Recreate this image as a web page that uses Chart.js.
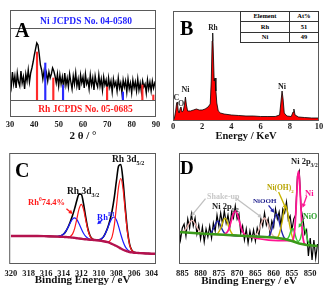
<!DOCTYPE html>
<html><head><meta charset="utf-8">
<script src="https://cdn.jsdelivr.net/npm/chart.js@4.4.1/dist/chart.umd.min.js"></script>
<style>
html,body{margin:0;padding:0;background:#fff;}
#fig{position:relative;width:335px;height:292px;overflow:hidden;font-family:"Liberation Serif","Times New Roman",serif;font-weight:bold;}
.pane{position:absolute;}
.lbl{position:absolute;white-space:nowrap;line-height:1;}
.big{font-size:20px;color:#000;}
.ctr{transform:translateX(-50%);}
sub,sup{font-size:65%;line-height:0;}
table.at{position:absolute;left:240px;top:11px;width:79px;height:32px;border-collapse:collapse;font-size:6.5px;background:#fff;}
table.at td{border:1px solid #333;text-align:center;padding:0;line-height:1;}
</style></head>
<body>
<div id="fig">
  <div class="pane" style="left:0;top:0;width:167px;height:146px"><canvas id="cA"></canvas></div>
  <div class="pane" style="left:167px;top:0;width:168px;height:146px"><canvas id="cB"></canvas></div>
  <div class="pane" style="left:0;top:146px;width:167px;height:146px"><canvas id="cC"></canvas></div>
  <div class="pane" style="left:167px;top:146px;width:168px;height:146px"><canvas id="cD"></canvas></div>

  <!-- A -->
  <div class="lbl big" style="left:15px;top:20px">A</div>
  <div class="lbl ctr" style="left:86px;top:16.7px;font-size:9.5px;color:#1f1fff">Ni JCPDS No. 04-0580</div>
  <div class="lbl ctr" style="left:85.5px;top:104.7px;font-size:9.5px;color:#ff1a1a">Rh JCPDS No. 05-0685</div>

  <!-- B -->
  <div class="lbl big" style="left:180px;top:17.5px">B</div>
  <table class="at">
    <tr><td>Element</td><td>At%</td></tr>
    <tr><td>Rh</td><td>51</td></tr>
    <tr><td>Ni</td><td>49</td></tr>
  </table>
  <div class="lbl ctr" style="left:213px;top:23.7px;font-size:7.5px;color:#222">Rh</div>
  <div class="lbl ctr" style="left:176.5px;top:93.5px;font-size:8px;color:#333">C</div>
  <div class="lbl ctr" style="left:181px;top:99.5px;font-size:8px;color:#333">O</div>
  <div class="lbl ctr" style="left:185.5px;top:85.5px;font-size:8px;color:#222">Ni</div>
  <div class="lbl ctr" style="left:282px;top:83px;font-size:8px;color:#222">Ni</div>

  <!-- C -->
  <div class="lbl big" style="left:15px;top:159.5px">C</div>
  <div class="lbl" style="left:112px;top:155px;font-size:9.5px;color:#111">Rh 3d<sub>5/2</sub></div>
  <div class="lbl" style="left:67px;top:187px;font-size:9.5px;color:#111">Rh 3d<sub>3/2</sub></div>
  <div class="lbl" style="left:28px;top:198px;font-size:8.5px;color:#ff1a1a">Rh<sup>0</sup>74.4%</div>
  <div class="lbl" style="left:97px;top:212.5px;font-size:8.5px;color:#1a1aff">Rh<sup>III</sup></div>

  <!-- D -->
  <div class="lbl big" style="left:180px;top:157.5px;font-size:19px">D</div>
  <div class="lbl" style="left:207px;top:192.5px;font-size:8px;color:#c8c8c8">Shake-up</div>
  <div class="lbl" style="left:212px;top:202px;font-size:8.5px;color:#222">Ni 2p<sub>1/2</sub></div>
  <div class="lbl" style="left:253px;top:197.5px;font-size:7px;color:#1c1c8c">NiOOH</div>
  <div class="lbl" style="left:267px;top:184px;font-size:7.5px;color:#b8a400">Ni(OH)<sub>2</sub></div>
  <div class="lbl" style="left:291px;top:157px;font-size:8.5px;color:#222">Ni 2p<sub>3/2</sub></div>
  <div class="lbl" style="left:305px;top:188.5px;font-size:8.5px;color:#ff1493">Ni</div>
  <div class="lbl" style="left:303px;top:213px;font-size:8px;color:#2ca02c">NiO</div>
</div>
<script>
// ===================== DATA =====================
// A — XRD pattern (2θ, intensity) and reference lines
const xrdX=[30,30.5,31,31.5,32,32.5,33,33.5,34,34.5,35,35.5,36,36.5,37,37.5,38,38.5,39,39.5,40,40.5,41,41.5,42,42.5,43,43.5,44,44.5,45,45.5,46,46.5,47,47.5,48,48.5,49,49.5,50,50.5,51,51.5,52,52.5,53,53.5,54,54.5,55,55.5,56,56.5,57,57.5,58,58.5,59,59.5,60,60.5,61,61.5,62,62.5,63,63.5,64,64.5,65,65.5,66,66.5,67,67.5,68,68.5,69,69.5,70,70.5,71,71.5,72,72.5,73,73.5,74,74.5,75,75.5,76,76.5,77,77.5,78,78.5,79,79.5,80,80.5,81,81.5,82,82.5,83,83.5,84,84.5,85,85.5,86,86.5,87,87.5,88,88.5,89,89.5,90];
const xrdY=[38,30,45,33,41,29,44,35,31,46,34,40,28,43,36,47,35,44,49,55,62,68,74,72,63,52,47,38,46,37,44,36,45,39,43,49,46,41,34,43,31,42,33,40,29,44,32,39,30,43,35,28,41,33,44,31,38,27,42,34,40,29,43,33,37,28,42,32,39,27,41,34,30,42,31,38,27,40,32,37,26,39,30,36,25,38,31,35,26,39,29,34,24,37,30,36,25,38,28,34,24,37,29,35,26,38,27,34,25,36,30,33,24,37,28,35,26,36,29,34,31];
const aSplit=[17,89];             // reference-band boundaries
const niPos=[44.5,51.8,76.4], niTop=[54,32,25];
const rhPos=[41.1,47.8,69.9,84.4,88.9], rhTop=[65,39,30,32,22];

// B — EDS spectrum
const edsX=[0,0.1,0.18,0.25,0.3,0.36,0.42,0.5,0.55,0.62,0.7,0.78,0.85,0.92,1.0,1.2,1.4,1.6,1.8,2.0,2.2,2.4,2.55,2.62,2.68,2.72,2.76,2.82,2.88,2.94,3.0,3.1,3.25,3.5,4,4.5,5,5.5,6,6.5,7,7.3,7.4,7.47,7.54,7.62,7.8,8.1,8.22,8.28,8.36,8.6,9,9.5,10];
const edsY=[0,3,10,18,19,10,8,13,14,9,10,16,24,16,10,10,11,12,11,11,12,14,17,40,80,88,70,40,43,30,18,10,8,7,6,5.5,5,5,4.5,4.5,4.5,6,20,30,22,8,5,4.5,9,12,6,4,3.5,3,3];

// C — Rh 3d XPS
const rhX=[320,319,318,317,316,315,314.5,314,313.75,313.5,313.25,313,312.75,312.5,312.25,312,311.75,311.5,311.25,311,310.75,310.5,310,309.5,309,308.75,308.5,308.25,308,307.75,307.5,307.25,307,306.75,306.5,306.25,306,305.5,305,304.5,304,303.5];
const rhBg=[28,28,28,28,27.8,27.5,27.3,27.1,27,26.8,26.6,26.4,26.1,25.8,25.5,25.2,24.9,24.7,24.5,24.3,24.1,24,23.5,22.8,21.8,21,20,19,18,16.8,15.5,14.3,13.3,12.6,12,11.6,11.3,11,10.7,10.5,10.3,10.2];
const rh0=[28,28,28,28,27.8,27.5,27.3,27.1,27,27,27.6,29.9,35.6,45.3,55.4,59.7,54.8,44.2,34,27.8,25.1,24.2,23.5,22.8,22.2,23,27.1,38.3,57.5,77.5,85.5,75,52.8,31.9,19.1,13.6,11.7,11,10.7,10.5,10.3,10.2];
const rh3=[28,28,28,28,27.8,27.5,27.8,30,32.8,36.8,41.3,44.9,46.1,44.3,40.2,35.2,30.7,27.6,25.8,24.8,24.2,24,24.1,26.9,35.8,41.6,45.9,47,43.9,37.4,29.5,22.5,17.4,14.4,12.6,11.8,11.3,11,10.7,10.5,10.3,10.2];
const rhSum=[28,28,28,28,27.8,27.5,27.8,30,32.8,37,42.3,48.4,55.6,63.8,70.1,69.7,60.6,47.1,35.3,28.3,25.2,24.3,24.1,26.9,36.2,43.6,53,66.3,83.4,98.1,99.5,83.2,56.9,33.7,19.7,13.8,11.7,11,10.7,10.5,10.3,10.2];

// D — Ni 2p XPS
const niX=[886,885.5,885,884.5,884,883.5,883,882.5,882,881.5,881,880.5,880,879.5,879,878.5,878,877.5,877,876.5,876,875.5,875,874.5,874,873.5,873,872.5,872,871.5,871,870.5,870,869.5,869,868.5,868,867.5,867,866.5,866,865.5,865,864.5,864,863.5,863,862.5,862,861.5,861,860.5,860,859.5,859,858.5,858,857.5,857,856.5,856,855.5,855,854.5,854,853.5,853,852.5,852,851.5,851,850.5,850,849.5,849,848.5,848];
const niRaw=[38,24,36,40,28,45,36,50,38,46,30,39,25,37,22,35,27,38,26,41,33,49,38,51,40,53,41,49,37,52,46,58,45,50,31,38,24,35,21,33,24,34,23,36,29,45,38,51,39,45,30,43,37,55,45,52,38,55,51,62,44,48,34,45,49,88,93,55,46,30,34,8,26,4,24,6,20];
const suX=[885.3,884.3,883.3,882.8,882.3,881.8,881.3,880.3,879.3,865.5,864.5,863.5,863,862.5,862,861.5,860.5,859.5];
const suY=[32,33.7,39.3,42.4,43.6,42.1,38.8,32.7,30.6,27.9,30.6,39.4,44.1,46,43.9,39,29.8,26.6];
const oohX=[877.8,877.3,876.3,875.8,875.3,874.8,874.3,873.3,872.8,861.7,861.2,860.2,859.7,859.2,858.7,858.2,857.2,856.7];
const oohY=[30.2,30.8,36.5,41,43.1,40.8,36.1,30,29.2,27.2,28.2,38.5,46.6,50.1,46.1,37.6,26.6,25];
const ohX=[875.8,875.3,874.3,873.8,873.3,872.8,872.3,871.3,870.8,859.2,858.7,857.7,857.2,856.7,856.2,855.7,854.7,854.2];
const ohY=[29.9,30.6,37.6,43.2,45.7,43,37.2,29.8,28.9,26.5,27.9,41.9,52.9,57.7,52,40.2,24.7,22.4];
const metX=[873.5,872.5,871.5,871,870.5,870,869.5,868.5,867.5,855.2,854.7,854.2,853.7,853.45,853.2,852.95,852.7,852.2,851.7,851.2];
const metY=[29.6,33.1,44.5,50.6,53.1,50.4,44.1,32.3,28.4,23.3,24.4,36,69.1,86,92.8,85.4,68,33.9,21.3,19.3];
const nioX=[856.8,856.3,855.8,855.3,854.8,854.3,853.8,853.3,852.7,852.2,851.7,851.2,850.7,850.2,849.7];
const nioY=[24.9,25.1,27.6,32.9,35.75,31.7,25.3,22.5,25.3,32.4,36.5,31.65,23.9,19.8,18.7];
const niBgX=[886,880,875,870,865,860,857,855,853,851,848];
const niBgY=[32,30.5,29.5,28.5,27.5,26.5,25,23,20.5,19,18];

// ===================== HELPERS =====================
const serif='"Liberation Serif","Times New Roman",serif';

function arrow(ctx,x1,y1,x2,y2,col){
  const a=Math.atan2(y2-y1,x2-x1),h=4.5;
  ctx.strokeStyle=col;ctx.fillStyle=col;ctx.lineWidth=1.3;
  ctx.beginPath();ctx.moveTo(x1,y1);ctx.lineTo(x2-h*0.7*Math.cos(a),y2-h*0.7*Math.sin(a));ctx.stroke();
  ctx.beginPath();ctx.moveTo(x2,y2);
  ctx.lineTo(x2-h*Math.cos(a-0.5),y2-h*Math.sin(a-0.5));
  ctx.lineTo(x2-h*Math.cos(a+0.5),y2-h*Math.sin(a+0.5));
  ctx.closePath();ctx.fill();
}

const frame={id:'frame',
  afterDatasetsDraw(c,args,o){
    const a=c.chartArea,ctx=c.ctx,sx=c.scales.x,sy=c.scales.y;
    ctx.save();
    ctx.strokeStyle='#5a5a5a';ctx.lineWidth=1;
    ctx.strokeRect(a.left+0.5,a.top+0.5,a.right-a.left-1,a.bottom-a.top-1);
    (o.hLines||[]).forEach(v=>{
      const y=Math.round(sy.getPixelForValue(v))+0.5;
      ctx.beginPath();ctx.moveTo(a.left,y);ctx.lineTo(a.right,y);ctx.stroke();
    });
    (o.arrows||[]).forEach(r=>arrow(ctx,sx.getPixelForValue(r[0]),sy.getPixelForValue(r[1]),sx.getPixelForValue(r[2]),sy.getPixelForValue(r[3]),r[4]));
    ctx.restore();
  }};

function ln(xs,ys,color,w,order,extra){
  return Object.assign({type:'line',data:xs.map((x,i)=>({x,y:ys[i]})),borderColor:color,backgroundColor:color,
    borderWidth:w,pointRadius:0,tension:0,order,fill:false},extra||{});
}
function xAxis(min,max,step,reverse,title,h,tickPad,titleSize,titlePad){
  return {type:'linear',min,max,reverse,offset:false,
    grid:{display:false,drawTicks:false},border:{display:false},
    ticks:{stepSize:step,includeBounds:false,padding:tickPad,color:'#1a1a1a',autoSkip:false,maxRotation:0,
      font:{family:serif,size:8.5,weight:'bold'}},
    title:{display:true,text:title,color:'#111',font:{family:serif,size:titleSize,weight:'bold'},padding:{top:0,bottom:titlePad}},
    afterFit:s=>{s.height=h;}};
}
function opts(pad,xa,ymax,fr){
  return {responsive:true,maintainAspectRatio:false,animation:false,events:[],
    layout:{padding:pad},
    plugins:{legend:{display:false},tooltip:{enabled:false},frame:fr},
    scales:{x:xa,y:{display:false,min:0,max:ymax}}};
}

// ===================== A : XRD =====================
new Chart(document.getElementById('cA'),{type:'line',
  data:{datasets:[
    ln(xrdX,xrdY,'#000',1.4,2),
    {type:'bar',data:niPos.map((x,i)=>({x,y:[aSplit[0],niTop[i]]})),backgroundColor:'#2a2aff',barThickness:1.5,grouped:false,order:0},
    {type:'bar',data:rhPos.map((x,i)=>({x,y:[aSplit[0],rhTop[i]]})),backgroundColor:'#ff2a2a',barThickness:1.5,grouped:false,order:0}
  ]},
  options:opts({left:10,top:10,right:11,bottom:0},xAxis(30,90,10,false,'2 θ / °',29,3,11,3.4),107,{hLines:aSplit}),
  plugins:[frame]});

// ===================== B : EDS =====================
new Chart(document.getElementById('cB'),{type:'line',
  data:{datasets:[
    ln(edsX,edsY,'#000',0.8,0,{fill:'origin',backgroundColor:'#ff0000'})
  ]},
  options:opts({left:6,top:11,right:16,bottom:0},xAxis(0,10,2,false,'Energy / KeV',25,1,10.5,3.5),110,{}),
  plugins:[frame]});

// ===================== C : Rh 3d =====================
new Chart(document.getElementById('cC'),{type:'line',
  data:{datasets:[
    ln(rhX,rhSum,'#000',1.6,3,{cubicInterpolationMode:'monotone'}),
    ln(rhX,rh3,'#1a1aff',1.2,2,{cubicInterpolationMode:'monotone'}),
    ln(rhX,rh0,'#ff1a1a',1.2,1,{cubicInterpolationMode:'monotone'}),
    ln(rhX,rhBg,'#b4124e',2.4,0,{cubicInterpolationMode:'monotone'})
  ]},
  options:opts({left:8,top:7,right:11,bottom:0},xAxis(303.5,320.2,2,true,'Binding Energy / eV',28,4.5,11,5),111,
    {arrows:[[313.69,55.3,312.98,50,'#ff1a1a'],[309.63,44,310.19,39.7,'#1a1aff']]}),
  plugins:[frame]});

// ===================== D : Ni 2p =====================
new Chart(document.getElementById('cD'),{type:'line',
  data:{datasets:[
    ln(niX,niRaw,'#000',1.2,9),
    ln(suX,suY,'#e6b4b0',1.4,6,{cubicInterpolationMode:'monotone'}),
    ln(oohX,oohY,'#2222aa',1.4,5,{cubicInterpolationMode:'monotone'}),
    ln(ohX,ohY,'#c8b400',1.4,4,{cubicInterpolationMode:'monotone'}),
    ln(nioX,nioY,'#33cc33',1.4,3,{cubicInterpolationMode:'monotone'}),
    ln(metX,metY,'#ff1493',1.8,2,{cubicInterpolationMode:'monotone'}),
    ln(niBgX,niBgY,'#3a9a1a',2.4,1)
  ]},
  options:opts({left:12,top:7,right:16,bottom:0},xAxis(847.6,885.9,5,true,'Binding Energy / eV',28,4.5,11,4),111,
    {arrows:[[878.65,65.3,882.55,48,'#c0c0c0'],[870.5,66.3,863.2,46.3,'#c0c0c0'],[861.4,58.7,859.85,51.3,'#2222aa'],
             [858.65,72,856.6,55,'#c8b400'],[850.95,68,852.1,56.3,'#ff1493'],[851.85,44,853.2,36.3,'#33cc33']]}),
  plugins:[frame]});
</script>
</body></html>
